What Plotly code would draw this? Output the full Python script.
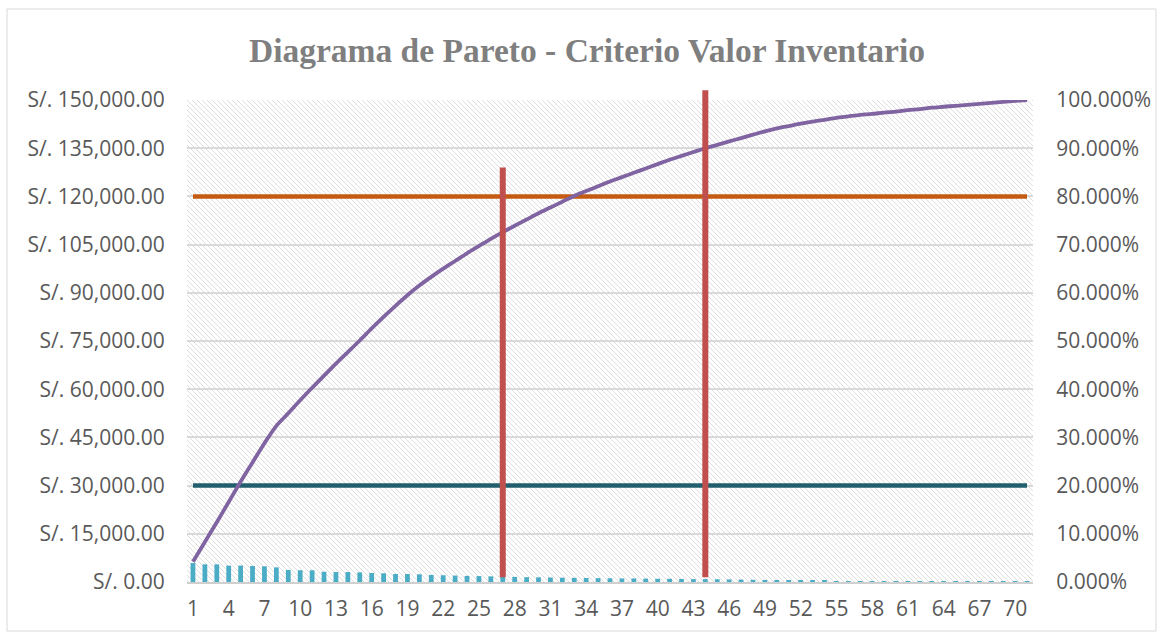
import base64
import plotly.graph_objects as go

# ---------------- data ----------------
categories = list(range(1, 72))

valor_inventario = [
    5900, 5500, 5500, 5100, 5100, 5000, 4900, 4550, 3750, 3650,
    3650, 3200, 3100, 3100, 3000, 2800, 2700, 2500, 2500, 2400,
    2200, 2100, 2000, 1900, 1850, 1750, 1700, 1600, 1500, 1450,
    1400, 1350, 1300, 1250, 1200, 1150, 1100, 1100, 1050, 1000,
    1000, 950, 900, 900, 850, 800, 750, 700, 650, 600,
    550, 500, 420, 360, 300, 270, 250, 240, 230, 220,
    210, 200, 190, 180, 170, 160, 150, 140, 130, 120,
    110,
]

porcentaje_acumulado = [
    4.2, 8.3, 12.4, 16.6, 20.8, 24.8, 28.8, 32.4, 35.0, 37.7,
    40.3, 42.8, 45.3, 47.7, 50.1, 52.6, 55.0, 57.3, 59.5, 61.5,
    63.3, 65.0, 66.6, 68.2, 69.7, 71.2, 72.6, 73.9, 75.2, 76.5,
    77.7, 78.9, 80.1, 81.1, 82.1, 83.1, 84.0, 84.9, 85.8, 86.7,
    87.6, 88.4, 89.2, 90.0, 90.7, 91.4, 92.1, 92.8, 93.5, 94.1,
    94.6, 95.1, 95.5, 95.9, 96.3, 96.6, 96.9, 97.1, 97.4, 97.6,
    97.9, 98.1, 98.4, 98.6, 98.8, 99.0, 99.2, 99.4, 99.6, 99.8,
    100.0,
]

limite_a = 0.80       # orange horizontal line (80 %)
limite_c = 0.20       # teal horizontal line (20 %)
corte_categorias = [27, 44]     # red vertical lines position
corte_superior = [0.86, 1.02]   # red vertical lines top (fraction)
corte_inferior = [0.01, 0.01]

left_tickvals = list(range(0, 150001, 15000))
right_tickvals = [i / 10 for i in range(0, 11)]
x_tickvals = categories[::3]

title_text = "Diagrama de Pareto - Criterio Valor Inventario"

# ---------------- layout geometry ----------------
W, H = 1163, 639
plot_left, plot_right = 187, 1033
plot_top_main, plot_bottom = 100, 582
outer_top = 88  # extra room above the plot for the tall red line
m_l, m_r, m_t, m_b = plot_left, W - plot_right, outer_top, H - plot_bottom
area_h = plot_bottom - outer_top
main_h = plot_bottom - plot_top_main
dtop = main_h / area_h

TXT = "#595959"
FONT = "Open Sans"

fig = go.Figure()

# bars
fig.add_trace(go.Bar(
    x=categories, y=valor_inventario, marker_color="#4bacc6",
    marker_line_width=0, width=0.4, yaxis="y", name="Valor",
))

# threshold lines (secondary axis)
fig.add_trace(go.Scatter(
    x=categories, y=[limite_a] * len(categories), mode="lines",
    line=dict(color="#c55a11", width=4.5), yaxis="y2", name="80%",
))
fig.add_trace(go.Scatter(
    x=categories, y=[limite_c] * len(categories), mode="lines",
    line=dict(color="#215f6e", width=4.5), yaxis="y2", name="20%",
))

# cumulative line
fig.add_trace(go.Scatter(
    x=categories, y=[p / 100 for p in porcentaje_acumulado], mode="lines",
    line=dict(color="#8064a2", width=3.8, shape="spline", smoothing=0.8),
    yaxis="y2", name="% acumulado",
))

# red cut lines on a taller (hidden) axis so they can rise above the plot top
for c, lo, hi in zip(corte_categorias, corte_inferior, corte_superior):
    fig.add_trace(go.Scatter(
        x=[c, c], y=[lo, hi], mode="lines",
        line=dict(color="#c0504d", width=6), yaxis="y3", xaxis="x",
        name="corte",
    ))

# hatch background image
pw, ph = plot_right - plot_left, main_h
svg = (
    f'<svg xmlns="http://www.w3.org/2000/svg" width="{pw}" height="{ph}">'
    '<defs><pattern id="h" patternUnits="userSpaceOnUse" width="5" height="5">'
    '<path d="M-1,-1 L6,6 M-1,4 L1,6 M4,-1 L6,1" stroke="#dedede" stroke-width="1.0"/>'
    '</pattern></defs>'
    f'<rect width="{pw}" height="{ph}" fill="url(#h)"/></svg>'
)
src = "data:image/svg+xml;base64," + base64.b64encode(svg.encode()).decode()

fig.update_layout(
    width=W, height=H,
    margin=dict(l=m_l, r=m_r, t=m_t, b=m_b, pad=0, autoexpand=False),
    paper_bgcolor="white", plot_bgcolor="rgba(0,0,0,0)",
    showlegend=False,
    bargap=0.6,
    title=dict(
        text=title_text, x=587 / W, xanchor="center", xref="container",
        y=1 - 50 / H, yanchor="middle", yref="container",
        font=dict(family="Liberation Serif", size=33.5, color="#7f7f7f", weight="bold"),
    ),
    images=[dict(
        source=src, xref="paper", yref="paper", x=0, y=dtop,
        sizex=1, sizey=dtop, xanchor="left", yanchor="top",
        sizing="stretch", layer="below",
    )],
    xaxis=dict(
        range=[0.5, 71.5], tickmode="array", tickvals=x_tickvals,
        ticktext=[str(v) for v in x_tickvals],
        showgrid=False, zeroline=False, showline=True,
        linecolor="#cfcfcf", linewidth=1.5, automargin=False,
        ticks="outside", ticklen=7, tickcolor="rgba(0,0,0,0)",
        tickfont=dict(family=FONT, size=21, color=TXT),
        anchor="y",
    ),
    yaxis=dict(
        domain=[0, dtop], range=[0, 150000], tickmode="array",
        tickvals=left_tickvals, automargin=False,
        ticktext=[f"S/. {v:,.2f}" for v in left_tickvals],
        showgrid=True, gridcolor="#d9d9d9", gridwidth=1.5, zeroline=False,
        ticks="outside", ticklen=17, tickcolor="rgba(0,0,0,0)",
        tickfont=dict(family=FONT, size=21, color=TXT),
    ),
    yaxis2=dict(
        overlaying="y", side="right", range=[0, 1], tickmode="array",
        tickvals=right_tickvals, automargin=False,
        ticktext=[f"{v * 100:.3f}%" for v in right_tickvals],
        showgrid=False, zeroline=False,
        ticks="outside", ticklen=18, tickcolor="rgba(0,0,0,0)",
        tickfont=dict(family=FONT, size=21, color=TXT),
    ),
    yaxis3=dict(
        domain=[0, 1], range=[0, 1 / dtop], visible=False, anchor="x",
        showgrid=False, zeroline=False, automargin=False,
    ),
    shapes=[dict(
        type="rect", xref="paper", yref="paper",
        x0=(7 - plot_left) / pw, x1=(1156 - plot_left) / pw,
        y0=(plot_bottom - 631) / area_h, y1=(plot_bottom - 9) / area_h,
        line=dict(color="#d9d9d9", width=1), fillcolor="rgba(0,0,0,0)",
        layer="below",
    )],
)

fig.write_html(
    "out.html",
    config={"displayModeBar": False},
    post_script="document.body.style.margin='0';document.body.style.overflow='hidden';",
)
